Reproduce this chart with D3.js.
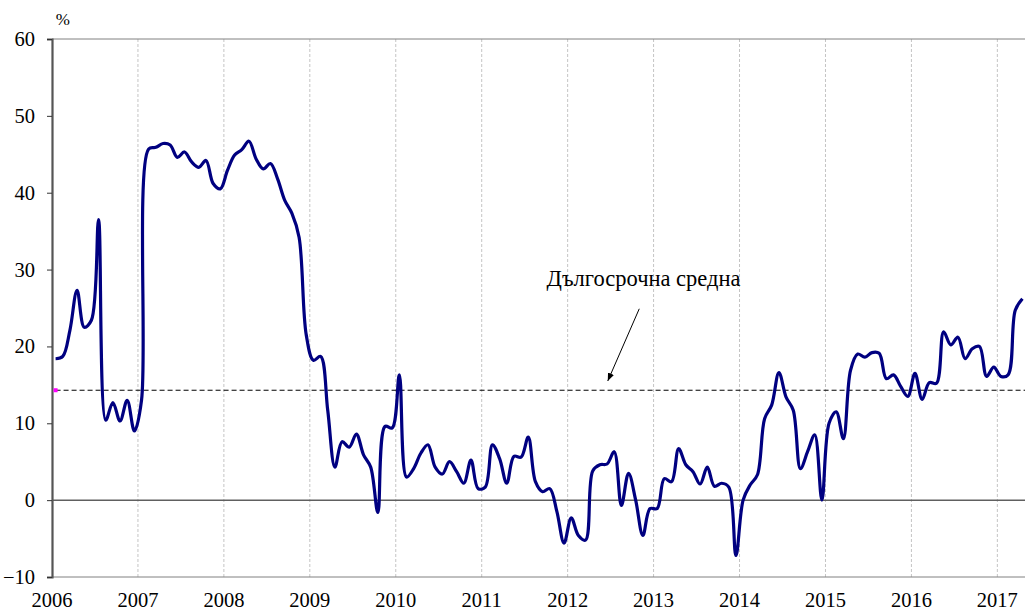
<!DOCTYPE html>
<html>
<head>
<meta charset="utf-8">
<script src="https://cdn.jsdelivr.net/npm/d3@7"></script>
<style>
  body { margin: 0; background: #fff; }
  svg text { font-family: "Liberation Serif", "Times New Roman", serif; fill: #000; }
</style>
</head>
<body>
<div id="chart"></div>
<script>
// monthly series, Jan 2006 .. Apr 2017
const startYear = 2006;
const values = [
  18.4, 18.7, 22.1, 27.3, 22.5, 23.4, 36.5, 10.4, 12.7, 10.3, 13.0, 9.0,   // 2006
  13.0, 45.7, 45.9, 46.4, 46.2, 44.6, 45.3, 44.0, 43.3, 44.2, 41.2, 40.5,  // 2007
  42.9, 44.9, 45.6, 46.7, 44.4, 43.1, 43.8, 41.8, 39.0, 37.3, 34.2, 21.5,  // 2008
  18.2, 18.7, 11.7, 4.3, 7.6, 6.9, 8.6, 5.9, 4.3, -1.6, 9.6, 9.4,          // 2009
  16.3, 3.0, 4.1, 6.1, 7.2, 4.3, 3.4, 5.0, 3.7, 2.2, 5.2, 1.5,             // 2010
  1.7, 7.2, 5.4, 2.2, 5.7, 5.6, 8.2, 2.4, 1.1, 1.5, -1.5, -5.6,            // 2011
  -2.3, -4.6, -5.2, 3.8, 4.6, 4.7, 6.3, -0.7, 3.5, 0.0, -4.6, -1.1,        // 2012
  -1.1, 2.8, 2.4, 6.7, 4.6, 3.7, 2.1, 4.3, 1.8, 2.2, 1.7, -7.2,            // 2013
  0.0, 2.0, 3.3, 10.6, 12.4, 16.6, 13.4, 11.7, 4.1, 6.3, 8.5, 0.0,         // 2014
  10.0, 11.5, 8.0, 16.9, 19.0, 18.6, 19.2, 19.1, 15.8, 16.3, 14.8, 13.5,   // 2015
  16.5, 13.1, 15.3, 15.2, 21.9, 20.2, 21.2, 18.4, 19.7, 20.0, 16.1, 17.3,  // 2016
  16.1, 16.3, 24.7, 26.2                                                   // 2017
];
const longTermAvg = 14.3;
const years = [2006, 2007, 2008, 2009, 2010, 2011, 2012, 2013, 2014, 2015, 2016, 2017];
const yTicks = [-10, 0, 10, 20, 30, 40, 50, 60];
const annotationText = "Дългосрочна средна";
// annotation anchor points in data units (month index, value)
const arrowFrom = [82.0, 24.9];
const arrowTo = [77.6, 15.5];
const labelAt = [82.6, 27.8];

const width = 1025, height = 612;
const margin = {top: 39, right: -1, bottom: 35, left: 52};

const svg = d3.select("#chart").append("svg")
  .attr("width", width)
  .attr("height", height);

let x = d3.scaleLinear()
  .domain([0, values.length])
  .range([margin.left, width - margin.right]);

let y = d3.scaleLinear()
  .domain([-10, 60])
  .range([height - margin.bottom, margin.top]);

svg.append("defs").append("marker")
  .attr("id", "arrow")
  .attr("viewBox", "0 0 10 10")
  .attr("refX", 10).attr("refY", 5)
  .attr("markerWidth", 8).attr("markerHeight", 8)
  .attr("orient", "auto")
  .append("path")
  .attr("d", "M0,1 L10,5 L0,9 Z")
  .attr("fill", "#000");

// vertical year grid lines
svg.append("g").selectAll("line")
  .data(years.slice(1))
  .enter().append("line")
  .attr("x1", d => x((d - startYear) * 12))
  .attr("x2", d => x((d - startYear) * 12))
  .attr("y1", y(60))
  .attr("y2", y(-10))
  .attr("stroke", "#c4c4c4")
  .attr("stroke-width", 1)
  .attr("stroke-dasharray", "3,2");

// top and bottom frame lines
svg.append("line")
  .attr("x1", x(0)).attr("x2", x(values.length))
  .attr("y1", y(60)).attr("y2", y(60))
  .attr("stroke", "#808080").attr("stroke-width", 1);
svg.append("line")
  .attr("x1", x(0)).attr("x2", x(values.length))
  .attr("y1", y(-10)).attr("y2", y(-10))
  .attr("stroke", "#808080").attr("stroke-width", 1);

// zero line
svg.append("line")
  .attr("x1", x(0)).attr("x2", x(values.length))
  .attr("y1", y(0)).attr("y2", y(0))
  .attr("stroke", "#606060").attr("stroke-width", 1.5);

// y axis
let yAxis = d3.axisLeft(y)
  .tickValues(yTicks)
  .tickSize(5)
  .tickPadding(12)
  .tickFormat(d3.format("d"));

let yg = svg.append("g")
  .attr("transform", `translate(${margin.left},0)`)
  .call(yAxis);
yg.select(".domain").attr("stroke", "#555").attr("stroke-width", 2.2);
yg.selectAll(".tick line").attr("stroke", "#333");
yg.selectAll("text")
  .style("font-family", "'Liberation Serif', serif")
  .style("font-size", "20.5px")
  .attr("fill", "#000");

// year labels
svg.append("g").selectAll("text")
  .data(years)
  .enter().append("text")
  .attr("x", d => x((d - startYear) * 12))
  .attr("y", height - 5)
  .attr("text-anchor", "middle")
  .style("font-size", "20.5px")
  .text(d => d);

// % unit label
svg.append("text")
  .attr("x", x(1.5))
  .attr("y", y(60) - 14)
  .attr("text-anchor", "middle")
  .style("font-size", "17px")
  .text("%");

// long-term average
svg.append("line")
  .attr("x1", x(0.5)).attr("x2", x(values.length))
  .attr("y1", y(longTermAvg)).attr("y2", y(longTermAvg))
  .attr("stroke", "#000")
  .attr("stroke-width", 1)
  .attr("stroke-dasharray", "5,3");
svg.append("rect")
  .attr("x", x(0.5) - 2).attr("y", y(longTermAvg) - 2)
  .attr("width", 4).attr("height", 4)
  .attr("fill", "#ff00ff");

// main series
let line = d3.line()
  .x((d, i) => x(i + 0.5))
  .y(d => y(d))
  .curve(d3.curveCatmullRom.alpha(0.5));

svg.append("path")
  .datum(values)
  .attr("d", line)
  .attr("fill", "none")
  .attr("stroke", "#000080")
  .attr("stroke-width", 3.2)
  .attr("stroke-linejoin", "round");

// annotation
svg.append("line")
  .attr("x1", x(arrowFrom[0])).attr("y1", y(arrowFrom[1]))
  .attr("x2", x(arrowTo[0])).attr("y2", y(arrowTo[1]))
  .attr("stroke", "#000")
  .attr("stroke-width", 1)
  .attr("marker-end", "url(#arrow)");

svg.append("text")
  .attr("x", x(labelAt[0]))
  .attr("y", y(labelAt[1]))
  .attr("text-anchor", "middle")
  .style("font-size", "22.5px")
  .text(annotationText);
</script>
</body>
</html>
